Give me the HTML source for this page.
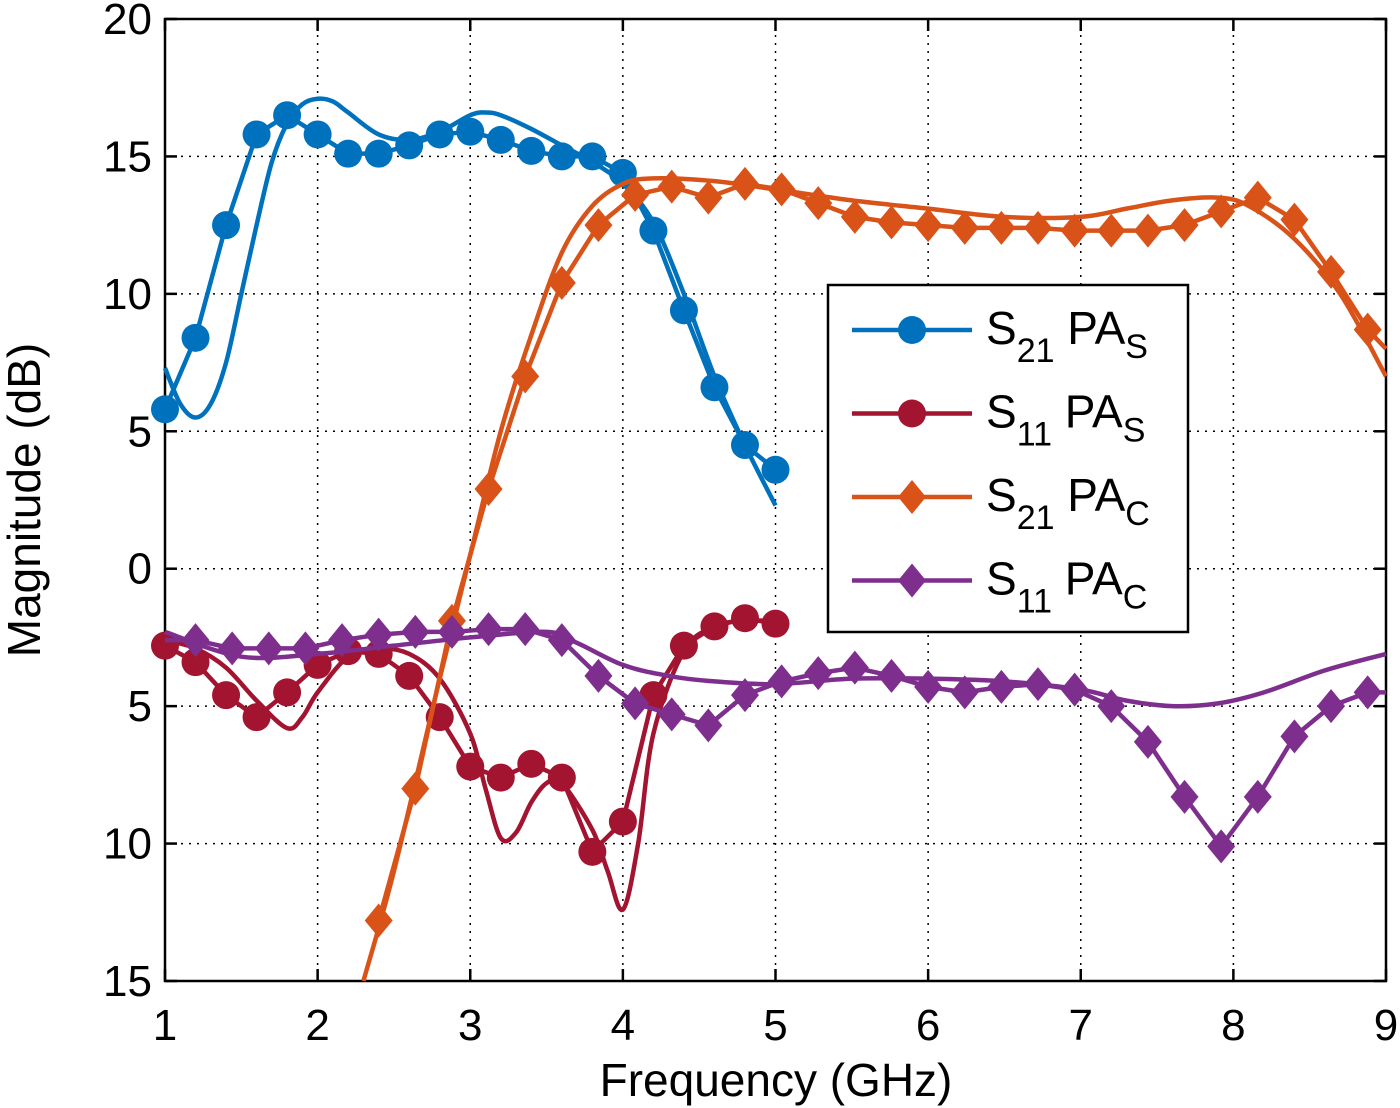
<!DOCTYPE html>
<html><head><meta charset="utf-8">
<style>
html,body{margin:0;padding:0;background:#fff;}
svg{display:block;font-family:"Liberation Sans",Arial,sans-serif;}
</style></head>
<body>
<svg id="chart" width="1400" height="1108" viewBox="0 0 1400 1108" xmlns="http://www.w3.org/2000/svg"></svg>
<script>
const xTicks=[1,2,3,4,5,6,7,8,9];
const yTicks=[20,15,10,5,0,-5,-10,-15];
const yTickLabels=["20","15","10","5","0","5","10","15"];
// S21 PA_S measured (markers)
const s21sMeasX=[1,1.2,1.4,1.6,1.8,2,2.2,2.4,2.6,2.8,3,3.2,3.4,3.6,3.8,4,4.2,4.4,4.6,4.8,5];
const s21sMeasY=[5.8,8.4,12.5,15.8,16.5,15.8,15.1,15.1,15.4,15.8,15.9,15.6,15.2,15.0,15.0,14.4,12.3,9.4,6.6,4.5,3.6];
// S21 PA_S simulated
const s21sSimX=[1,1.1,1.2,1.3,1.4,1.5,1.6,1.7,1.8,1.9,2,2.1,2.2,2.4,2.6,2.8,3,3.1,3.2,3.4,3.6,3.8,4,4.2,4.4,4.6,4.8,5];
const s21sSimY=[7.3,6.0,5.5,6.0,7.5,10,12.5,14.8,16.2,16.9,17.1,17.0,16.6,15.8,15.6,15.9,16.5,16.6,16.5,16.0,15.4,14.8,14.0,12.6,10.0,7.0,4.5,2.3];
// S11 PA_S measured
const s11sMeasX=[1,1.2,1.4,1.6,1.8,2,2.2,2.4,2.6,2.8,3,3.2,3.4,3.6,3.8,4,4.2,4.4,4.6,4.8,5];
const s11sMeasY=[-2.8,-3.4,-4.6,-5.4,-4.5,-3.5,-3.0,-3.1,-3.9,-5.4,-7.2,-7.6,-7.1,-7.6,-10.3,-9.2,-4.6,-2.8,-2.1,-1.8,-2.0];
// S11 PA_S simulated
const s11sSimX=[1,1.2,1.4,1.6,1.8,1.9,2,2.2,2.4,2.6,2.8,3,3.1,3.2,3.3,3.4,3.5,3.6,3.8,3.9,4,4.1,4.2,4.4,4.6,4.8,5];
const s11sSimY=[-2.6,-2.9,-3.6,-4.8,-5.8,-5.4,-4.5,-3.2,-2.9,-3.1,-4.0,-6.0,-8.0,-9.8,-9.6,-8.5,-7.8,-7.8,-9.5,-11,-12.4,-10,-6,-3.0,-2.1,-1.9,-1.9];
// S21 PA_C measured
const s21cMeasX=[2.4,2.64,2.88,3.12,3.36,3.6,3.84,4.08,4.32,4.56,4.8,5.04,5.28,5.52,5.76,6,6.24,6.48,6.72,6.96,7.2,7.44,7.68,7.92,8.16,8.4,8.64,8.88,9];
const s21cMeasY=[-12.8,-8.0,-1.9,2.9,7.0,10.4,12.5,13.6,13.9,13.5,14.0,13.8,13.3,12.8,12.6,12.5,12.4,12.4,12.4,12.3,12.3,12.3,12.5,13.0,13.5,12.7,10.8,8.7,8.0];
const s21cMarkCount=28;
// S21 PA_C simulated
const s21cSimX=[2.3,2.5,2.8,3,3.2,3.4,3.6,3.8,4,4.2,4.6,5,5.5,6,6.5,7,7.3,7.6,7.9,8.1,8.4,8.7,9];
const s21cSimY=[-15,-11,-4,0.5,5,8.5,11.5,13.2,14.0,14.2,14.1,13.8,13.4,13.1,12.8,12.8,13.1,13.4,13.5,13.2,12.0,10.0,7.0];
// S11 PA_C measured
const s11cMeasX=[1,1.2,1.44,1.68,1.92,2.16,2.4,2.64,2.88,3.12,3.36,3.6,3.84,4.08,4.32,4.56,4.8,5.04,5.28,5.52,5.76,6,6.24,6.48,6.72,6.96,7.2,7.44,7.68,7.92,8.16,8.4,8.64,8.88,9];
const s11cMeasY=[-2.6,-2.6,-2.9,-2.9,-2.9,-2.6,-2.4,-2.3,-2.3,-2.2,-2.2,-2.6,-3.9,-4.9,-5.3,-5.7,-4.6,-4.1,-3.8,-3.6,-3.9,-4.3,-4.5,-4.3,-4.2,-4.4,-5.0,-6.3,-8.3,-10.1,-8.3,-6.1,-5.0,-4.5,-4.5];
// S11 PA_C simulated
const s11cSimX=[1,1.5,2,2.5,3,3.5,3.7,4,4.3,4.6,5,5.5,6,6.5,7,7.3,7.6,7.9,8.2,8.6,9];
const s11cSimY=[-2.3,-3.2,-3.1,-2.8,-2.5,-2.3,-2.7,-3.5,-3.9,-4.1,-4.2,-4.0,-4.0,-4.1,-4.4,-4.8,-5.0,-4.9,-4.5,-3.7,-3.1];

const L=165,R=1386,T=19,B=981;
const sx=v=>L+(v-1)/8*(R-L);
const sy=v=>T+(20-v)/35*(B-T);
const NS="http://www.w3.org/2000/svg";
const svg=document.getElementById('chart');
function mk(tag,attrs,parent){const e=document.createElementNS(NS,tag);for(const k in attrs)e.setAttribute(k,attrs[k]);(parent||svg).appendChild(e);return e;}

const grid=mk('g',{});


xTicks.forEach(t=>{if(t>1&&t<9)mk('line',{x1:sx(t),x2:sx(t),y1:T,y2:B,stroke:'#000','stroke-width':1.5,'stroke-dasharray':'2,6'},grid);});
yTicks.forEach(t=>{if(t<20&&t>-15)mk('line',{x1:L,x2:R,y1:sy(t),y2:sy(t),stroke:'#000','stroke-width':1.5,'stroke-dasharray':'2,6'},grid);});

const axes=mk('g',{});


mk('rect',{x:L,y:T,width:R-L,height:B-T,fill:'none',stroke:'#000','stroke-width':2.5},axes);
xTicks.forEach(t=>{
  mk('line',{x1:sx(t),x2:sx(t),y1:B,y2:B-12,stroke:'#000','stroke-width':2.5},axes);
  mk('line',{x1:sx(t),x2:sx(t),y1:T,y2:T+12,stroke:'#000','stroke-width':2.5},axes);
  const tx=mk('text',{x:sx(t),y:1040,'font-size':44,'text-anchor':'middle',fill:'#000'},axes);
  
  
  tx.textContent=t;
});
yTicks.forEach((t,i)=>{
  mk('line',{x1:L,x2:L+12,y1:sy(t),y2:sy(t),stroke:'#000','stroke-width':2.5},axes);
  mk('line',{x1:R,x2:R-12,y1:sy(t),y2:sy(t),stroke:'#000','stroke-width':2.5},axes);
  const tx=mk('text',{x:152,y:sy(t)+15,'font-size':44,'text-anchor':'end',fill:'#000'},axes);
  
  
  tx.textContent=yTickLabels[i];
});
const xl=mk('text',{x:776,y:1096,'font-size':46,'text-anchor':'middle',fill:'#000'});


xl.textContent='Frequency (GHz)';
const yl=mk('text',{x:0,y:0,'font-size':46,'text-anchor':'middle',fill:'#000',transform:'translate(40,500) rotate(-90)'});


yl.textContent='Magnitude (dB)';

function smoothPath(pts){
  let d=`M${pts[0][0]},${pts[0][1]}`;
  for(let i=0;i<pts.length-1;i++){
    const p0=pts[Math.max(0,i-1)],p1=pts[i],p2=pts[i+1],p3=pts[Math.min(pts.length-1,i+2)];
    const c1=[p1[0]+(p2[0]-p0[0])/6,p1[1]+(p2[1]-p0[1])/6];
    const c2=[p2[0]-(p3[0]-p1[0])/6,p2[1]-(p3[1]-p1[1])/6];
    d+=` C${c1[0]},${c1[1]} ${c2[0]},${c2[1]} ${p2[0]},${p2[1]}`;
  }
  return d;
}
function line(xs,ys,color,name,smooth){
  const pts=xs.map((x,i)=>[sx(x),sy(ys[i])]);
  const d=smooth?smoothPath(pts):'M'+pts.map(p=>p.join(',')).join(' L');
  const p=mk('path',{d:d,fill:'none',stroke:color,'stroke-width':4.5,'stroke-linejoin':'round'});
  
  
}
function circ(cx,cy,color,g){mk('circle',{cx:cx,cy:cy,r:14,fill:color},g);}
function diam(cx,cy,color,g){mk('polygon',{points:`${cx},${cy-17} ${cx+14},${cy} ${cx},${cy+17} ${cx-14},${cy}`,fill:color},g);}
function markers(xs,ys,color,shape,name,skip){
  const g=mk('g',{});
  
  
  xs.forEach((x,i)=>{if(skip&&skip(i))return;shape(sx(x),sy(ys[i]),color,g);});
}
const blue='#0072BD',red='#A2142F',orange='#D95319',purple='#7E2F8E';
line(s21sSimX,s21sSimY,blue,'s21-pas-simulated-line',true);
line(s21sMeasX,s21sMeasY,blue,'s21-pas-measured-line');
markers(s21sMeasX,s21sMeasY,blue,circ,'s21-pas-markers');
line(s11sSimX,s11sSimY,red,'s11-pas-simulated-line',true);
line(s11sMeasX,s11sMeasY,red,'s11-pas-measured-line');
markers(s11sMeasX,s11sMeasY,red,circ,'s11-pas-markers');
line(s21cSimX,s21cSimY,orange,'s21-pac-simulated-line',true);
line(s21cMeasX,s21cMeasY,orange,'s21-pac-measured-line');
markers(s21cMeasX,s21cMeasY,orange,diam,'s21-pac-markers',i=>i>=s21cMarkCount);
line(s11cSimX,s11cSimY,purple,'s11-pac-simulated-line',true);
line(s11cMeasX,s11cMeasY,purple,'s11-pac-measured-line');
markers(s11cMeasX,s11cMeasY,purple,diam,'s11-pac-markers',i=>i===0||i===s11cMeasX.length-1);

// legend
const leg=mk('g',{});


mk('rect',{x:828,y:285,width:360,height:347,fill:'#fff',stroke:'#000','stroke-width':2.5},leg);
const entries=[['21','S',blue,circ],['11','S',red,circ],['21','C',orange,diam],['11','C',purple,diam]];
entries.forEach((e,i)=>{
  const y=330+i*83.5;
  const g=mk('g',{},leg);
  
  
  mk('line',{x1:852,x2:972,y1:y,y2:y,stroke:e[2],'stroke-width':4.5},g);
  e[3](912,y,e[2],g);
  const t=mk('text',{x:986,y:y+14,'font-size':46,fill:'#000'},g);
  t.innerHTML=`S<tspan font-size="34" dy="18">${e[0]}</tspan><tspan dy="-18"> PA</tspan><tspan font-size="34" dy="14">${e[1]}</tspan>`;
});
</script>
</body></html>
